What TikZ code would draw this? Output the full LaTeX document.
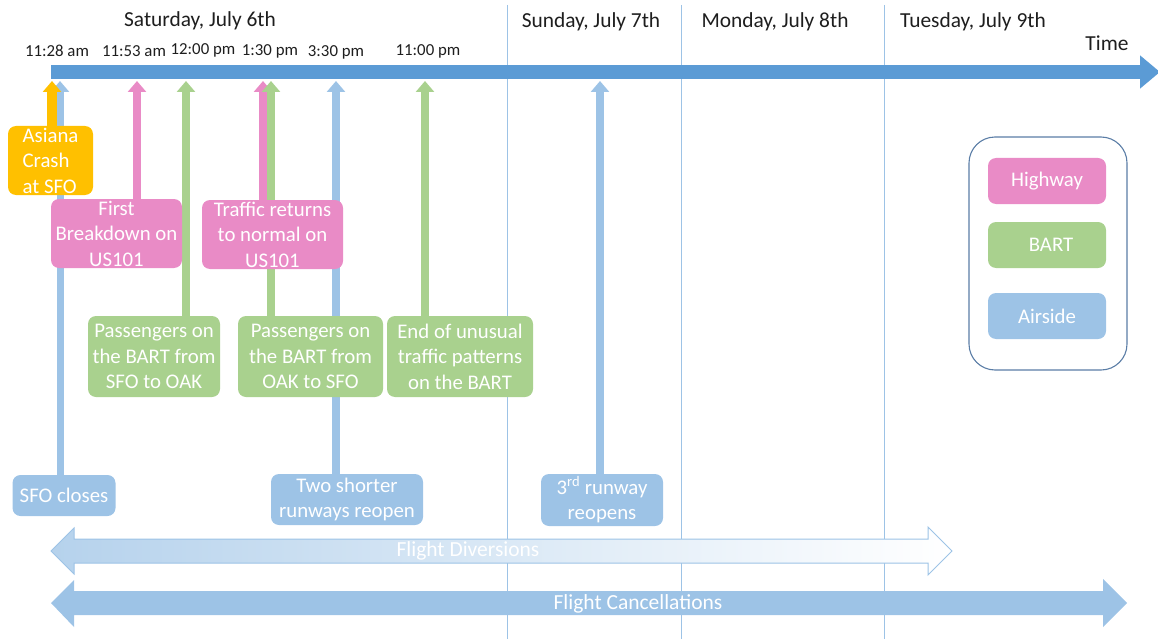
\documentclass[tikz,border=0pt]{standalone}
\usepackage{fontspec}
\setmainfont{Carlito}
\usetikzlibrary{arrows.meta}
\definecolor{tlblue}{HTML}{5B9BD5}
\definecolor{air}{HTML}{9DC3E6}
\definecolor{bart}{HTML}{A9D18E}
\definecolor{hwy}{HTML}{E98BC6}
\definecolor{crash}{HTML}{FFC000}
\definecolor{legline}{HTML}{5A7DA6}
\definecolor{txt}{HTML}{1E1E1E}
\begin{document}
\begin{tikzpicture}[x=1pt,y=-1pt,
  ev/.style={rounded corners=8pt, inner sep=0pt, text=white, align=center,
    font=\fontsize{20.8}{25.5}\selectfont},
  upar/.style={line width=8.5pt, -{Triangle[width=18pt,length=11pt]}},
  daylbl/.style={text=txt, font=\fontsize{21.4}{24}\selectfont, inner sep=0pt},
  timelbl/.style={text=txt, font=\fontsize{16.8}{20}\selectfont, inner sep=0pt},
  barlbl/.style={text=white, font=\fontsize{21.5}{24}\selectfont, inner sep=0pt},
  divider/.style={air, line width=0.9pt}]
\useasboundingbox (0,0) rectangle (1158,639);
% day dividers
\draw[divider] (507,5) -- (507,639);
\draw[divider] (681,5) -- (681,639);
\draw[divider] (884,5) -- (884,639);
% day labels
\node[daylbl] (sat) at (200,21) {Saturday, July 6th};
\node[daylbl] (sun) at (591,22) {Sunday, July 7th};
\node[daylbl] (mon) at (775,22) {Monday, July 8th};
\node[daylbl] (tue) at (973,22) {Tuesday, July 9th};
\node[daylbl] (time) at (1107,43) {Time};
% time labels
\node[timelbl] (l1) at (57,51) {11:28 am};
\node[timelbl] (l2) at (134,51) {11:53 am};
\node[timelbl] (l3) at (203,50) {12:00 pm};
\node[timelbl] (l4) at (270,51) {1:30 pm};
\node[timelbl] (l5) at (336,52) {3:30 pm};
\node[timelbl] (l6) at (428,51) {11:00 pm};
% timeline
\coordinate (tstart) at (51,72);
\coordinate (tend) at (1160,72);
\draw[tlblue, line width=14.5pt, -{Triangle[width=32pt,length=20pt]}] (tstart) -- (tend);
% arrow tip points on the timeline
\coordinate (pA) at (52,81);
\coordinate (pB) at (60,81);
\coordinate (pC) at (137,81);
\coordinate (pD) at (186,81);
\coordinate (pE) at (263,81);
\coordinate (pF) at (271,81);
\coordinate (pG) at (336,81);
\coordinate (pH) at (425,81);
\coordinate (pI) at (600,81);
% event box centres
\path
  (50.5,160.5) coordinate (cAsiana)
  (64,495.5) coordinate (cSfo)
  (116.5,233.5) coordinate (cBrk)
  (154,356.5) coordinate (cP1)
  (272.5,234.5) coordinate (cTrf)
  (310.5,356.5) coordinate (cP2)
  (347,499.5) coordinate (cTwo)
  (460,356.5) coordinate (cEnd)
  (602,500) coordinate (cRd);
% vertical arrows
\draw[upar, air, line width=7pt] (pB |- 0,480) -- (pB);
\draw[upar, crash, line width=9.5pt] (pA |- 0,130) -- (pA);
\draw[upar, hwy] (pC |- 0,205) -- (pC);
\draw[upar, bart] (pD |- 0,320) -- (pD);
\draw[upar, hwy] (pE |- 0,205) -- (pE);
\draw[upar, bart] (pF |- 0,320) -- (pF);
\draw[upar, air] (pG |- 0,480) -- (pG);
\draw[upar, bart] (pH |- 0,320) -- (pH);
\draw[upar, air] (pI |- 0,480) -- (pI);
% boxes
\node[ev, fill=crash, align=left, minimum width=85pt, minimum height=69pt] (asiana) at (cAsiana) {Asiana\\Crash\\at SFO};
\node[ev, fill=hwy, minimum width=131pt, minimum height=69pt] (brk) at (cBrk) {First\\Breakdown on\\US101};
\node[ev, fill=hwy, minimum width=141pt, minimum height=69pt] (trf) at (cTrf) {Traffic returns\\to normal on\\US101};
\node[ev, fill=bart, minimum width=132pt, minimum height=81pt] (p1) at (cP1) {Passengers on\\the BART from\\SFO to OAK};
\node[ev, fill=bart, minimum width=145pt, minimum height=81pt] (p2) at (cP2) {Passengers on\\the BART from\\OAK to SFO};
\node[ev, fill=bart, minimum width=146pt, minimum height=81pt] (endb) at (cEnd) {End of unusual\\traffic patterns\\on the BART};
\node[ev, fill=air, minimum width=103pt, minimum height=41pt] (sfo) at (cSfo) {SFO closes};
\node[ev, fill=air, minimum width=152pt, minimum height=51pt] (two) at (cTwo) {Two shorter\\runways reopen};
\node[ev, fill=air, minimum width=122pt, minimum height=52pt] (rd) at (cRd) {3\textsuperscript{rd} runway\\reopens};
% legend
\node[draw=legline, line width=1.1pt, rounded corners=26pt, minimum width=158pt, minimum height=233pt, inner sep=0pt] (legend) at (1048,253.5) {};
\node[ev, fill=hwy, minimum width=118pt, minimum height=46pt] (lh) at (1047,181) {\raisebox{2pt}{Highway}};
\node[ev, fill=bart, minimum width=118pt, minimum height=46pt] (lb) at (1047,245) {\hspace*{8pt}BART};
\node[ev, fill=air, minimum width=118pt, minimum height=46pt] (la) at (1047,316) {Airside};
% flight diversions
\draw[air, line width=1pt, left color=air!75, right color=white]
  (51,551) -- (74,528) -- (74,539) -- (928,539) -- (928,527) -- (952,551)
  -- (928,575) -- (928,563) -- (74,563) -- (74,574) -- cycle;
\node[barlbl] (div) at (468,551) {Flight Diversions};
% flight cancellations
\fill[air]
  (51,603) -- (74,580) -- (74,591) -- (1103,591) -- (1103,579) -- (1127,603)
  -- (1103,627) -- (1103,615) -- (74,615) -- (74,627) -- cycle;
\node[barlbl] (can) at (638,604) {Flight Cancellations};
\end{tikzpicture}
\end{document}
